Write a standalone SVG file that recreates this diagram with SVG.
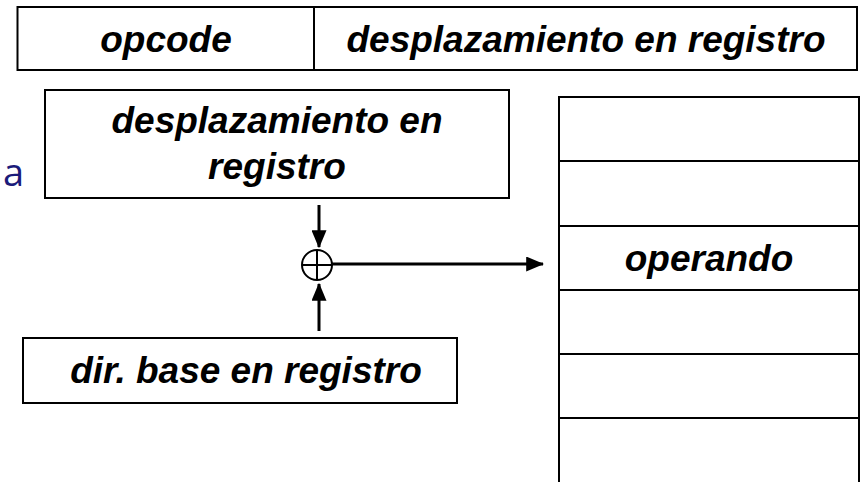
<svg xmlns="http://www.w3.org/2000/svg" width="862" height="482" viewBox="0 0 862 482">
<style>
.box{fill:#fff;stroke:#000;stroke-width:2}
.lbl{font-family:"Liberation Sans",Arial,sans-serif;font-weight:bold;font-style:italic;font-size:37px;fill:#000;text-anchor:middle}
.conn{stroke:#000;stroke-width:3;fill:none}
.sep{stroke:#000;stroke-width:2}
</style>
<defs>
<marker id="ah" markerWidth="6" markerHeight="5" refX="5.6" refY="2.5" orient="auto" markerUnits="strokeWidth">
<path d="M0,0 L6,2.5 L0,5 z" fill="#000"/>
</marker>
</defs>
<rect width="862" height="482" fill="#fff"/>
<text x="3" y="186" font-family="'Open Sans','Noto Sans',sans-serif" font-size="38" fill="#1B1B7A">a</text>
<g id="instr">
<rect class="box" x="17.5" y="7" width="839.5" height="63"/>
<line class="sep" x1="314" y1="7" x2="314" y2="70"/>
<text class="lbl" x="166" y="52">opcode</text>
<text class="lbl" x="586" y="52">desplazamiento en registro</text>
</g>
<g id="desp">
<rect class="box" x="45" y="90" width="464" height="108"/>
<text class="lbl" x="277" y="133">desplazamiento en</text>
<text class="lbl" x="277" y="179">registro</text>
</g>
<g id="base">
<rect class="box" x="23" y="338" width="434" height="65"/>
<text class="lbl" x="246" y="383">dir. base en registro</text>
</g>
<g id="sum">
<circle cx="317" cy="265" r="15" fill="#fff" stroke="#000" stroke-width="2"/>
<line class="sep" x1="317" y1="251" x2="317" y2="279"/>
<line class="sep" x1="303" y1="265" x2="331" y2="265"/>
</g>
<g id="memory">
<rect class="box" x="559" y="97" width="300" height="386"/>
<line class="sep" x1="559" y1="161" x2="859" y2="161"/>
<line class="sep" x1="559" y1="226" x2="859" y2="226"/>
<line class="sep" x1="559" y1="290" x2="859" y2="290"/>
<line class="sep" x1="559" y1="354" x2="859" y2="354"/>
<line class="sep" x1="559" y1="418" x2="859" y2="418"/>
<text class="lbl" x="709" y="271">operando</text>
</g>
<g id="connectors">
<line class="conn" x1="319" y1="205" x2="319" y2="247" marker-end="url(#ah)"/>
<line class="conn" x1="319" y1="331" x2="319" y2="284" marker-end="url(#ah)"/>
<line class="conn" x1="332" y1="264" x2="543" y2="264" marker-end="url(#ah)"/>
</g>
</svg>
